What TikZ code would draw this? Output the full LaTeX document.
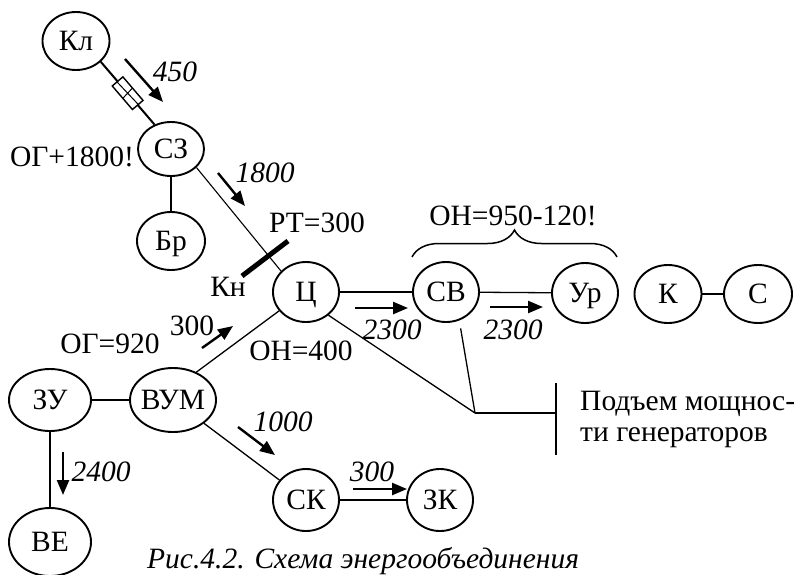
\documentclass[tikz,border=0pt]{standalone}
\usepackage{fontspec}
\setmainfont{Liberation Serif}
\usetikzlibrary{shapes.geometric,arrows.meta,decorations.pathreplacing}

\begin{document}
\begin{tikzpicture}[x=1pt,y=-1pt,
  every node/.style={font=\fontsize{29.5}{34}\selectfont},
  sys/.style={ellipse,draw,line width=1.9pt,inner xsep=-14pt,inner ysep=-7pt,
              text height=19.5pt,text depth=0pt},
  lab/.style={inner sep=0pt},
  ital/.style={inner sep=0pt,font=\fontsize{29.5}{34}\selectfont\itshape},
  flow/.style={line width=2.4pt,-{Triangle[length=15pt,width=12pt]}},
  link/.style={line width=1.3pt},
  heavy/.style={line width=2pt},
  brk/.style={draw,rectangle,line width=1.4pt,fill=white,inner sep=0pt,
              minimum width=31pt,minimum height=14pt,
              path picture={\draw[line width=1pt]
                (path picture bounding box.north west)--(path picture bounding box.south east)
                (path picture bounding box.south west)--(path picture bounding box.north east);}}
]
\useasboundingbox (0,0) rectangle (794,574);

% power systems
\node[sys,minimum width=67pt,minimum height=58pt] (kl)  at (76,41)   {Кл};
\node[sys,minimum width=66pt,minimum height=54pt] (sz)  at (171,149) {СЗ};
\node[sys,minimum width=68pt,minimum height=58pt] (br)  at (171,241) {Бр};
\node[sys,minimum width=66pt,minimum height=60pt] (c)   at (306,292) {Ц};
\node[sys,minimum width=66pt,minimum height=60pt] (sv)  at (446,292) {СВ};
\node[sys,minimum width=66pt,minimum height=60pt] (ur)  at (585,293) {Ур};
\node[sys,minimum width=67pt,minimum height=58pt] (k)   at (668,294) {К};
\node[sys,minimum width=68pt,minimum height=58pt] (s)   at (758,294) {С};
\node[sys,minimum width=82pt,minimum height=62pt] (zu)  at (50,400)  {ЗУ};
\node[sys,minimum width=86pt,minimum height=64pt] (vum) at (173,400) {ВУМ};
\node[sys,minimum width=82pt,minimum height=68pt] (ve)  at (50,542)  {ВЕ};
\node[sys,minimum width=66pt,minimum height=62pt] (sk)  at (306,500) {СК};
\node[sys,minimum width=66pt,minimum height=62pt] (zk)  at (440,500) {ЗК};

% tie lines
\draw[heavy] (kl.-40) -- node[brk,sloped,pos=0.5] (brk1) {} (sz.124);
\draw[heavy] (sz) -- (br);
\draw[line width=1.1pt] (sz.-36) -- (c.140);
\draw[link] (c) -- (sv);
\draw[link] (sv) -- (ur);
\draw[heavy] (k) -- (s);
\draw[link] (vum.50) -- (c.215);
\draw[link] (zu) -- (vum);
\draw[heavy] (zu) -- (ve);
\draw[link] (vum) -- (sk);
\draw[link] (sk) -- (zk);

% section breaker on the SZ--C line
\draw[line width=5pt] (242,276) -- (288,241);

% generator power increase
\coordinate (j) at (475,413);
\coordinate (bar) at (556,413);
\draw[link] (c.-46) -- (j);
\draw[link,shorten <=8pt] (sv.-65) -- (j);
\draw[link] (j) -- (bar);
\draw[line width=1.5pt] ([yshift=30pt]bar) -- ([yshift=-42pt]bar);
\node[lab,anchor=base west] (gen1) at (580,410) {Подъем мощнос-};
\node[lab,anchor=base west] (gen2) at (580,441) {ти генераторов};

% brace over SV--Ur
\draw[decorate,decoration={brace,amplitude=27pt},line width=1.5pt] (412,257) -- (617,257);
\node[lab] (on1) at (513,216) {ОН=950-120!};

% power flows
\draw[flow] (125,59) -- (163,102);
\draw[flow] (218,173) -- (245,206);
\draw[flow] (202,348) -- (233,326);
\draw[flow] (355,308) -- (408,308);
\draw[flow] (490,307) -- (543,307);
\draw[flow] (238,427) -- (275,455);
\draw[flow] (63,452) -- (63,495);
\draw[flow] (353,489) -- (407,489);

% labels
\node[lab]  (og1)    at (72,157)  {ОГ+1800!};
\node[ital] (f450)   at (175,72)  {450};
\node[ital] (f1800)  at (265,173) {1800};
\node[lab]  (rt)     at (317,223) {РТ=300};
\node[lab]  (kn)     at (228,287) {Кн};
\node[ital] (f2300a) at (392,330) {2300};
\node[ital] (f2300b) at (513,330) {2300};
\node[lab]  (og2)    at (110,344) {ОГ=920};
\node[lab]  (f300a)  at (192,326) {300};
\node[lab]  (on2)    at (301,351) {ОН=400};
\node[ital] (f1000)  at (283,422) {1000};
\node[ital] (f2400)  at (101,472) {2400};
\node[ital] (f300b)  at (372,472) {300};

\node[ital,anchor=base west] (cap) at (147,568) {Рис.4.2. Схема энергообъединения};
\end{tikzpicture}
\end{document}
